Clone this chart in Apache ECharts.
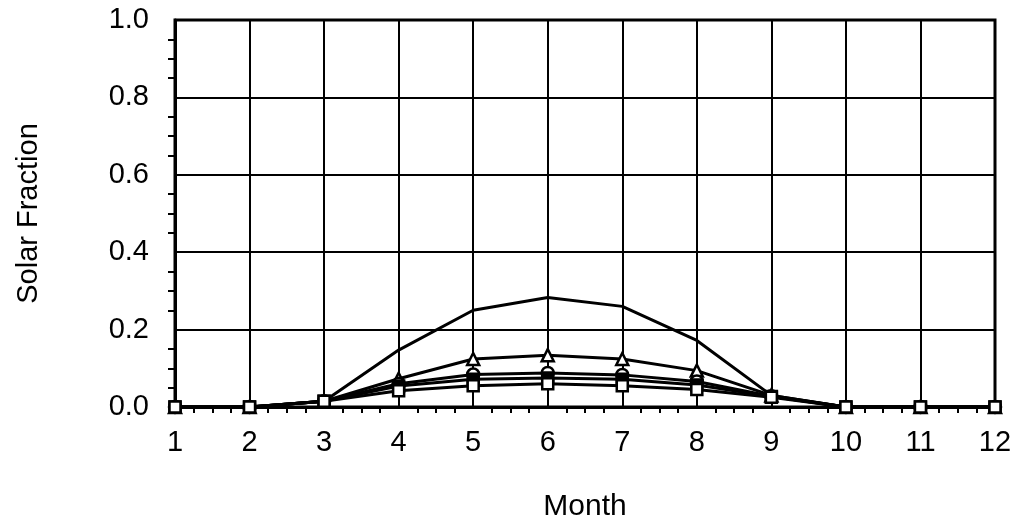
<!DOCTYPE html>
<html><head><meta charset="utf-8">
<script src="https://cdn.jsdelivr.net/npm/echarts@6/dist/echarts.min.js"></script>
<style>html,body{margin:0;padding:0;background:#fff}#c{width:1021px;height:527px}</style>
</head><body><div id="c"></div>
<script>
const months = [1,2,3,4,5,6,7,8,9,10,11,12];
const yTicks = [0.0,0.2,0.4,0.6,0.8,1.0];
const seriesTop      = [0,0,0.015,0.147,0.250,0.283,0.260,0.172,0.030,0,0,0];
const seriesTriangle = [0,0,0.015,0.073,0.124,0.134,0.124,0.094,0.030,0,0,0];
const seriesCircle   = [0,0,0.015,0.060,0.084,0.088,0.083,0.066,0.028,0,0,0];
const seriesFilledSq = [0,0,0.015,0.054,0.072,0.075,0.072,0.057,0.027,0,0,0];
const seriesOpenSq   = [0,0,0.015,0.042,0.055,0.060,0.055,0.045,0.025,0,0,0];

const font = '"Liberation Sans", Arial, Helvetica, sans-serif';
function pts(arr){ return months.map((m,i)=>[m,arr[i]]); }
function mk(name, arr, symbol, size, fill){
  return {
    name, type:'line', data: pts(arr), symbol, symbolSize: size,
    showSymbol: symbol !== 'none',
    lineStyle:{color:'#000', width:3},
    itemStyle:{color: fill, borderColor:'#000', borderWidth:2.5},
    emphasis:{disabled:true}, animation:false, z: 3
  };
}
const chart = echarts.init(document.getElementById('c'));
chart.setOption({
  backgroundColor:'#fff',
  animation:false,
  grid:{left:175, right:26, top:20, bottom:112, show:true, borderColor:'#000', borderWidth:3},
  xAxis:{
    type:'value', min:1, max:12, interval:1,
    name:'Month', nameLocation:'middle', nameGap:85,
    nameTextStyle:{color:'#000', fontFamily:font, fontSize:30},
    axisLine:{show:true, lineStyle:{color:'#000', width:3}},
    axisTick:{show:false},
    minorTick:{show:true, splitNumber:4, length:6, lineStyle:{color:'#000', width:2}},
    axisLabel:{color:'#000', fontFamily:font, fontSize:29, margin:21},
    splitLine:{show:true, lineStyle:{color:'#000', width:2}}
  },
  yAxis:{
    type:'value', min:0, max:1, interval:0.2,
    name:'Solar Fraction', nameLocation:'middle', nameGap:132, nameRotate:90,
    nameTextStyle:{color:'#000', fontFamily:font, fontSize:29},
    axisLine:{show:true, lineStyle:{color:'#000', width:3}},
    axisTick:{show:false},
    minorTick:{show:true, splitNumber:4, length:7, lineStyle:{color:'#000', width:2}},
    axisLabel:{color:'#000', fontFamily:font, fontSize:29, margin:26,
      formatter:v=>{ const t = yTicks.find(x=>Math.abs(x-v)<1e-9); return (t!==undefined?t:v).toFixed(1); }},
    splitLine:{show:true, lineStyle:{color:'#000', width:2}}
  },
  series:[
    mk('top', seriesTop, 'none', 0, '#000'),
    mk('triangle', seriesTriangle, 'triangle', 12, '#fff'),
    mk('circle', seriesCircle, 'circle', 12, '#fff'),
    mk('filledSquare', seriesFilledSq, 'rect', 11, '#000'),
    mk('openSquare', seriesOpenSq, 'rect', 11, '#fff')
  ]
});
</script></body></html>
